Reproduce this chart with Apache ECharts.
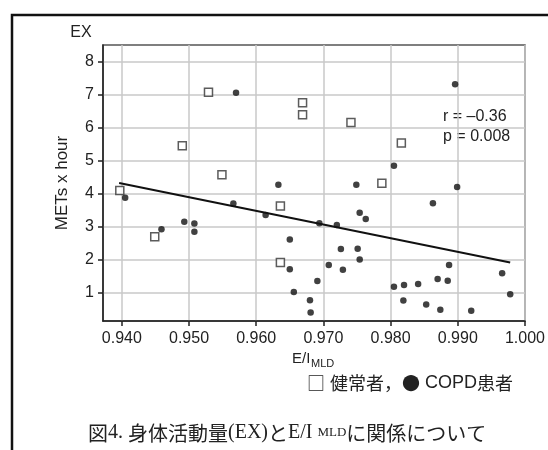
<!DOCTYPE html>
<html><head><meta charset="utf-8">
<script src="https://cdn.jsdelivr.net/npm/echarts@6/dist/echarts.min.js"></script>
<style>html,body{margin:0;padding:0;background:#fff}#c{width:548px;height:450px}</style>
</head><body><div id="c"></div>
<script>
// Healthy subjects (open squares)
var healthyX = [0.9397, 0.9449, 0.9490, 0.9529, 0.9549, 0.9636, 0.9636, 0.9669, 0.9669, 0.9741, 0.9787, 0.9816];
var healthyY = [4.09, 2.69, 5.45, 7.07, 4.57, 3.62, 1.91, 6.75, 6.39, 6.15, 4.31, 5.53];
// COPD patients (filled circles)
var copdX = [0.9570, 0.9896, 0.9805, 0.9405, 0.9459, 0.9493, 0.9508, 0.9508, 0.9566, 0.9614, 0.9633, 0.9650, 0.9650, 0.9656, 0.9680, 0.9681,
             0.9749, 0.9899, 0.9863, 0.9754, 0.9763, 0.9694, 0.9720, 0.9726, 0.9751, 0.9754, 0.9708, 0.9729, 0.9691, 0.9887, 0.9870, 0.9885,
             0.9841, 0.9820, 0.9805, 0.9966, 0.9978, 0.9819, 0.9853, 0.9874, 0.9920];
var copdY = [7.05, 7.31, 4.84, 3.87, 2.92, 3.15, 3.09, 2.84, 3.70, 3.35, 4.27, 2.61, 1.71, 1.02, 0.77, 0.40,
             4.27, 4.20, 3.71, 3.42, 3.23, 3.10, 3.05, 2.32, 2.33, 2.00, 1.84, 1.69, 1.35, 1.84, 1.41, 1.36,
             1.26, 1.23, 1.18, 1.59, 0.95, 0.76, 0.64, 0.48, 0.45];
// Regression line endpoints
var fitX = [0.9396, 0.9978];
var fitY = [4.32, 1.91];
// Axis ticks
var xTicks = [0.94, 0.95, 0.96, 0.97, 0.98, 0.99, 1.00];
var yTicks = [1, 2, 3, 4, 5, 6, 7, 8];
var statR = 'r = \u20130.36';
var statP = 'p = 0.008';

function zip(a, b) { return a.map(function (v, i) { return [v, b[i]]; }); }

var FONT = '"Liberation Sans", Arial, sans-serif';
var CJK = '"Noto Sans CJK JP", sans-serif';
var chart = echarts.init(document.getElementById('c'), null, {renderer: 'canvas'});
chart.setOption({
  animation: false,
  backgroundColor: '#fff',
  grid: {left: 103, right: 21.5, top: 45, bottom: 129, show: true, borderColor: '#555', borderWidth: 1.5},
  xAxis: {
    type: 'value', min: 0.9372, max: 1.0,
    axisLine: {show: true, lineStyle: {color: '#222', width: 1.5}},
    axisTick: {show: true, customValues: xTicks, length: 5, lineStyle: {color: '#222', width: 1.5}},
    axisLabel: {customValues: xTicks, formatter: function (v) { return v.toFixed(3); },
      fontFamily: FONT, fontSize: 16, color: '#222', margin: 10},
    splitLine: {show: true, lineStyle: {color: '#c8c8c8', width: 1.5}}
  },
  yAxis: {
    type: 'value', min: 0.14, max: 8.5,
    axisLine: {show: true, lineStyle: {color: '#222', width: 1.5}},
    axisTick: {show: true, customValues: yTicks, length: 5, lineStyle: {color: '#222', width: 1.5}},
    axisLabel: {customValues: yTicks, fontFamily: FONT, fontSize: 16, color: '#222', margin: 9},
    splitLine: {show: true, lineStyle: {color: '#c8c8c8', width: 1.5}},
    name: 'METs x hour', nameLocation: 'middle', nameGap: 32, nameRotate: 90,
    nameTextStyle: {fontFamily: FONT, fontSize: 17, color: '#222'}
  },
  series: [
    {type: 'line', data: zip(fitX, fitY), symbol: 'none', lineStyle: {color: '#111', width: 2}, z: 2},
    {type: 'scatter', name: '健常者', data: zip(healthyX, healthyY), symbol: 'rect', symbolSize: 8,
      itemStyle: {color: '#fff', borderColor: '#333', borderWidth: 1.5}, z: 3},
    {type: 'scatter', name: 'COPD患者', data: zip(copdX, copdY), symbol: 'circle', symbolSize: 6.5,
      itemStyle: {color: '#111'}, z: 4}
  ],
  graphic: [
    {type: 'rect', shape: {x: 12, y: 15, width: 700, height: 600}, style: {fill: 'none', stroke: '#111', lineWidth: 2.5}, silent: true},
    {type: 'text', x: 81, y: 33, style: {text: 'EX', font: '16px ' + FONT, fill: '#222', align: 'center', verticalAlign: 'middle'}},
    {type: 'text', x: 292, y: 359, style: {text: 'E/I', font: '15px ' + FONT, fill: '#222', align: 'left', verticalAlign: 'middle'}},
    {type: 'text', x: 311, y: 364, style: {text: 'MLD', font: '11px ' + FONT, fill: '#222', align: 'left', verticalAlign: 'middle'}},
    {type: 'text', x: 443, y: 117, style: {text: statR, font: '16px ' + FONT, fill: '#222', align: 'left', verticalAlign: 'middle'}},
    {type: 'text', x: 443, y: 137, style: {text: statP, font: '16px ' + FONT, fill: '#222', align: 'left', verticalAlign: 'middle'}},
    {type: 'text', x: 513, y: 383, style: {
      text: '{s|□}{t|健常者，}{s|●}{u|COPD}{t|患者}', align: 'right', verticalAlign: 'middle',
      rich: {
        s: {fontFamily: CJK, fontSize: 18, fill: '#222', padding: [0, 5, 0, 0]},
        t: {fontFamily: CJK, fontSize: 18, fill: '#222'},
        u: {fontFamily: FONT, fontSize: 18, fill: '#222'}
      }}},
    {type: 'text', x: 88, y: 433, style: {
      text: '{t|図}{l|4. }{t|身体活動量}{l|(EX)}{t|と}{l|E/I }{m|MLD}{t|に関係について}', align: 'left', verticalAlign: 'middle',
      rich: {
        t: {fontFamily: '"Noto Sans CJK JP", serif', fontSize: 20, fill: '#222'},
        l: {fontFamily: '"Liberation Serif", "Times New Roman", serif', fontSize: 20, fill: '#222'},
        m: {fontFamily: '"Liberation Serif", "Times New Roman", serif', fontSize: 13, fill: '#222'}
      }}}
  ]
});
</script>
</body></html>
